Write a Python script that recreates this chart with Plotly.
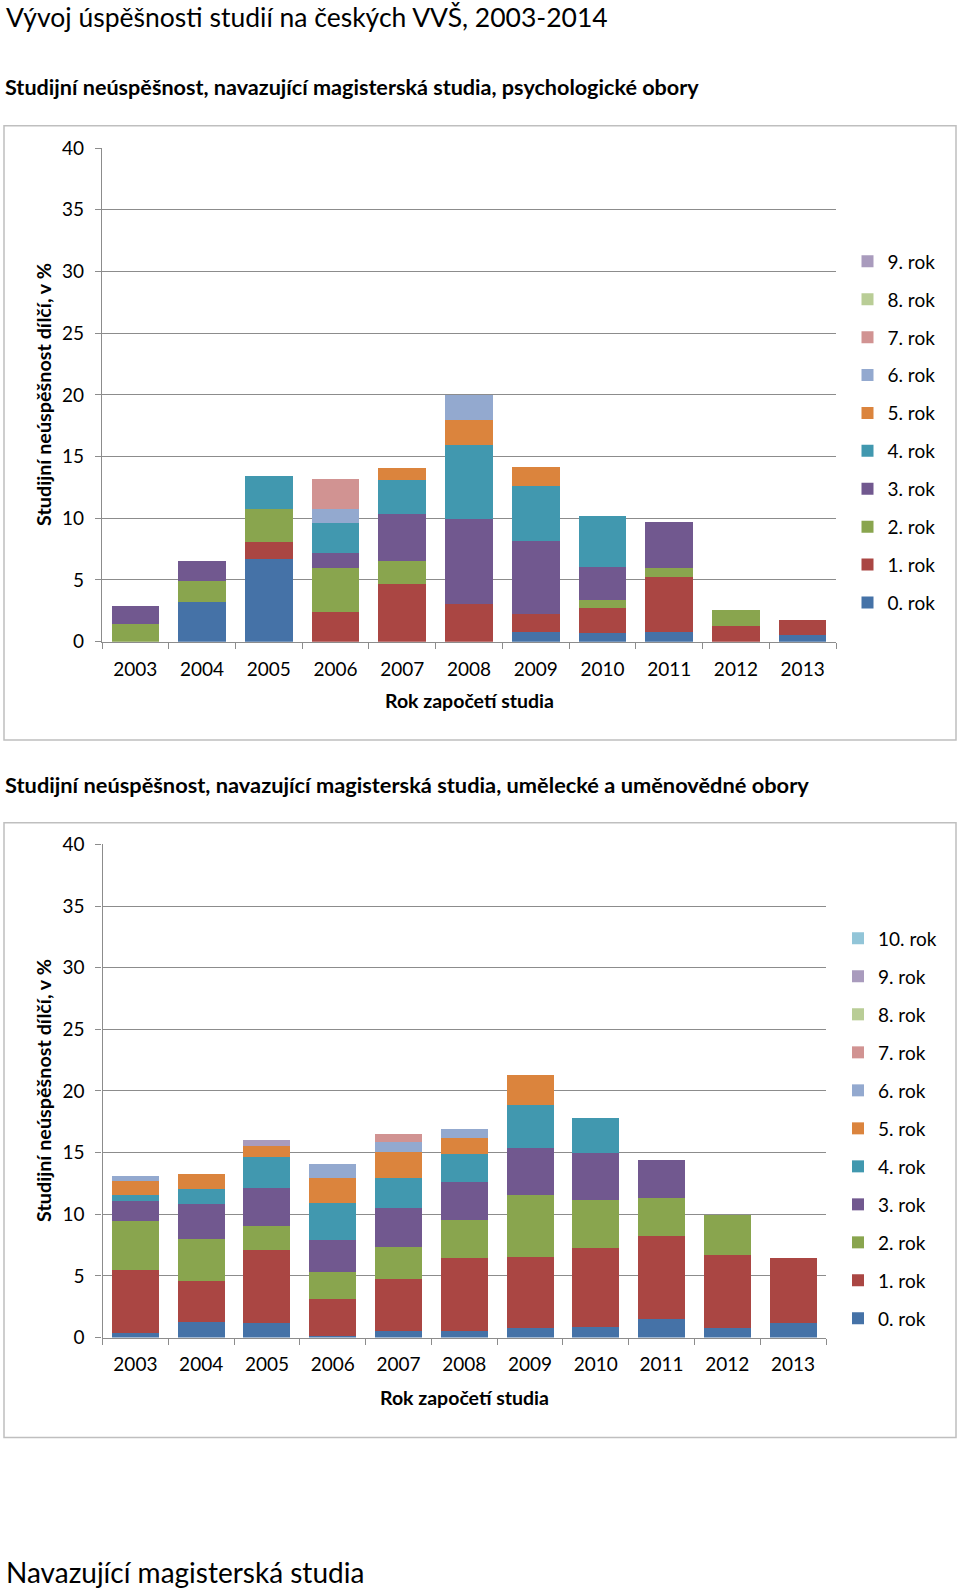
import plotly.graph_objects as go

W, H = 960, 1589

years = ["2003", "2004", "2005", "2006", "2007", "2008", "2009", "2010", "2011", "2012", "2013"]
y_ticks = [0, 5, 10, 15, 20, 25, 30, 35, 40]

# Chart 1: psychologické obory (share per study year, %)
psy_names = ["0. rok", "1. rok", "2. rok", "3. rok", "4. rok", "5. rok", "6. rok", "7. rok", "8. rok", "9. rok"]
psy_r0 = [0.0, 3.22, 6.70, 0.0, 0.0, 0.0, 0.76, 0.68, 0.76, 0.0, 0.57]
psy_r1 = [0.0, 0.0, 1.35, 2.38, 4.70, 3.03, 1.46, 2.02, 4.48, 1.24, 1.19]
psy_r2 = [1.43, 1.68, 2.73, 3.62, 1.86, 0.0, 0.0, 0.68, 0.76, 1.32, 0.0]
psy_r3 = [1.46, 1.65, 0.0, 1.19, 3.76, 6.92, 5.94, 2.70, 3.73, 0.0, 0.0]
psy_r4 = [0.0, 0.0, 2.68, 2.41, 2.81, 6.00, 4.49, 4.08, 0.0, 0.0, 0.0]
psy_r5 = [0.0, 0.0, 0.0, 0.0, 0.97, 2.00, 1.49, 0.0, 0.0, 0.0, 0.0]
psy_r6 = [0.0, 0.0, 0.0, 1.19, 0.0, 2.05, 0.0, 0.0, 0.0, 0.0, 0.0]
psy_r7 = [0.0, 0.0, 0.0, 2.43, 0.0, 0.0, 0.0, 0.0, 0.0, 0.0, 0.0]
psy_r8 = [0.0] * 11
psy_r9 = [0.0] * 11
psy_values = [psy_r0, psy_r1, psy_r2, psy_r3, psy_r4, psy_r5, psy_r6, psy_r7, psy_r8, psy_r9]

# Chart 2: umělecké a uměnovědné obory
art_names = ["0. rok", "1. rok", "2. rok", "3. rok", "4. rok", "5. rok", "6. rok", "7. rok", "8. rok", "9. rok", "10. rok"]
art_r0 = [0.38, 1.24, 1.14, 0.10, 0.54, 0.54, 0.76, 0.84, 1.49, 0.81, 1.14]
art_r1 = [5.13, 3.38, 5.92, 3.00, 4.19, 5.87, 5.75, 6.40, 6.73, 5.89, 5.29]
art_r2 = [3.97, 3.41, 1.97, 2.24, 2.62, 3.16, 5.03, 3.95, 3.08, 3.22, 0.0]
art_r3 = [1.57, 2.78, 3.08, 2.60, 3.19, 3.02, 3.84, 3.78, 3.08, 0.0, 0.0]
art_r4 = [0.49, 1.22, 2.54, 2.94, 2.41, 2.33, 3.46, 2.87, 0.0, 0.0, 0.0]
art_r5 = [1.14, 1.24, 0.86, 2.03, 2.08, 1.24, 2.48, 0.0, 0.0, 0.0, 0.0]
art_r6 = [0.41, 0.0, 0.0, 1.13, 0.81, 0.79, 0.0, 0.0, 0.0, 0.0, 0.0]
art_r7 = [0.0, 0.0, 0.0, 0.0, 0.70, 0.0, 0.0, 0.0, 0.0, 0.0, 0.0]
art_r8 = [0.0] * 11
art_r9 = [0.0, 0.0, 0.54, 0.0, 0.0, 0.0, 0.0, 0.0, 0.0, 0.0, 0.0]
art_r10 = [0.0] * 11
art_values = [art_r0, art_r1, art_r2, art_r3, art_r4, art_r5, art_r6, art_r7, art_r8, art_r9, art_r10]

colors = ["#4572A7", "#AA4643", "#89A54E", "#71588F", "#4198AF", "#DB843D",
          "#93A9CF", "#D19392", "#B9CD96", "#A99BBD", "#92C5D8"]

FONT = "Lato"
GRID = "#8C8C8C"

fig = go.Figure()

# legendrank: the highest study year is listed first, as in the original legend
for i, (name, vals) in enumerate(zip(psy_names, psy_values)):
    fig.add_trace(go.Bar(x=years, y=vals, name=name, marker=dict(color=colors[i], line=dict(width=0)),
                         xaxis="x", yaxis="y", legend="legend", legendgroup="a%d" % i,
                         legendrank=100 - i))
for i, (name, vals) in enumerate(zip(art_names, art_values)):
    fig.add_trace(go.Bar(x=years, y=vals, name=name, marker=dict(color=colors[i], line=dict(width=0)),
                         xaxis="x2", yaxis="y2", legend="legend2", legendgroup="b%d" % i,
                         legendrank=100 - i))


def px(x):
    return x / W


def py(y):
    return 1 - y / H


axis_font = dict(family=FONT, size=19, color="#000000")

xa = dict(type="category", showgrid=False, showline=True, linecolor=GRID, linewidth=1.3,
          ticks="outside", tickson="boundaries", ticklen=6, tickcolor=GRID, tickwidth=1.3,
          tickfont=axis_font, ticklabelstandoff=10, fixedrange=True, automargin=False)
ya = dict(range=[0, 40], tickvals=y_ticks, showgrid=True, gridcolor=GRID, gridwidth=1.3,
          showline=True, linecolor=GRID, linewidth=1.3, ticks="outside", ticklen=6, tickcolor=GRID,
          tickwidth=1.3, tickfont=axis_font, ticklabelstandoff=7, zeroline=False, fixedrange=True,
          automargin=False)

legend_common = dict(font=dict(family=FONT, size=19, color="#000000"), traceorder="grouped",
                     itemwidth=30, bgcolor="rgba(0,0,0,0)", xanchor="left", yanchor="top")

fig.update_layout(
    width=W, height=H, margin=dict(l=0, r=0, t=0, b=0, autoexpand=False),
    paper_bgcolor="white", plot_bgcolor="white",
    barmode="stack", bargap=0.285,
    xaxis=dict(domain=[px(102), px(836)], anchor="y", **xa),
    yaxis=dict(domain=[py(641.7), py(148)], anchor="x", **ya),
    xaxis2=dict(domain=[px(102.5), px(826)], anchor="y2", **xa),
    yaxis2=dict(domain=[py(1337.5), py(844.4)], anchor="x2", **ya),
    legend=dict(x=px(847.5), y=py(242.5), tracegroupgap=10.2, **legend_common),
    legend2=dict(x=px(838), y=py(919.5), tracegroupgap=10.3, **legend_common),
    showlegend=True,
)

shapes = [
    dict(type="rect", xref="paper", yref="paper", x0=px(4), x1=px(956), y0=py(740), y1=py(125.7),
         line=dict(color="#BFBFBF", width=1.5), layer="below"),
    dict(type="rect", xref="paper", yref="paper", x0=px(4), x1=px(956), y0=py(1437.5), y1=py(822.7),
         line=dict(color="#BFBFBF", width=1.5), layer="below"),
]
fig.update_layout(shapes=shapes)

ann = []
ann.append(dict(text="Vývoj úspěšnosti studií na českých VVŠ, 2003-2014", x=px(4), y=py(17),
                xanchor="left", yanchor="middle", font=dict(family=FONT, size=26.5, color="#000000")))
ann.append(dict(text="<b>Studijní neúspěšnost, navazující magisterská studia, psychologické obory</b>",
                x=px(3), y=py(87), xanchor="left", yanchor="middle",
                font=dict(family=FONT, size=21.6, color="#000000")))
ann.append(dict(text="<b>Studijní neúspěšnost, navazující magisterská studia, umělecké a uměnovědné obory</b>",
                x=px(3), y=py(784), xanchor="left", yanchor="middle",
                font=dict(family=FONT, size=21.8, color="#000000")))
ann.append(dict(text="Navazující magisterská studia", x=px(4), y=py(1572), xanchor="left", yanchor="middle",
                font=dict(family=FONT, size=28, color="#000000")))
for yc, xc in [(700.5, 469), (1397, 464)]:
    ann.append(dict(text="<b>Rok započetí studia</b>", x=px(xc), y=py(yc), xanchor="center", yanchor="middle",
                    font=dict(family=FONT, size=19.5, color="#000000")))
for yc in [395, 1091]:
    ann.append(dict(text="<b>Studijní neúspěšnost dílčí, v %</b>", x=px(43), y=py(yc), xanchor="center",
                    yanchor="middle", textangle=-90, font=dict(family=FONT, size=19.8, color="#000000")))
for a in ann:
    a.update(xref="paper", yref="paper", showarrow=False)
fig.update_layout(annotations=ann)

# remove the default 8px page margin so the figure starts at the window's corner
fig.write_html("out.html", config={"displayModeBar": False},
               post_script="document.body.style.margin='0';")
